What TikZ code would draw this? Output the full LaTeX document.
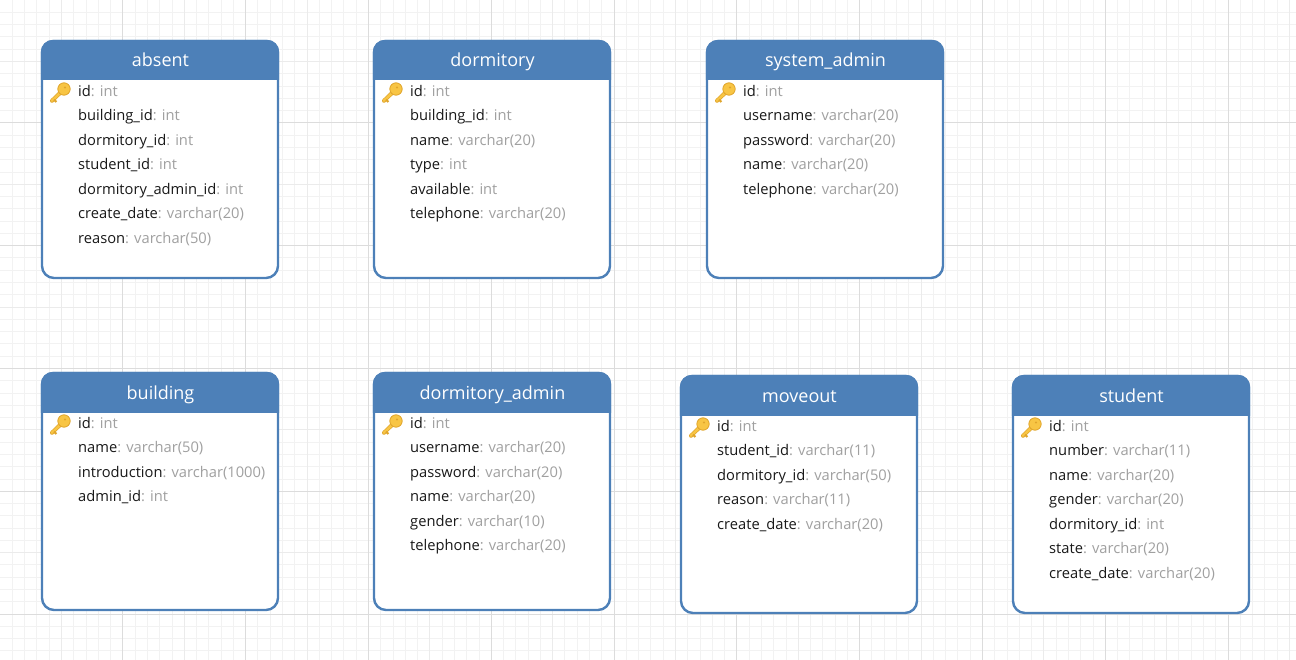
\documentclass[tikz,border=0pt]{standalone}
\usepackage{fontspec}
\setmainfont{Open Sans}
\definecolor{hdr}{HTML}{4D80B8}
\definecolor{minorg}{HTML}{F2F2F2}
\definecolor{midg}{HTML}{EBEBEB}
\definecolor{majorg}{HTML}{DCDCDC}
\definecolor{typeg}{HTML}{A0A0A0}
\definecolor{keyf}{HTML}{F8C544}
\definecolor{keyd}{HTML}{E0A52C}
\tikzset{
  x=1pt,y=-1pt,
  tablebody/.style={draw=hdr,line width=2.4pt,fill=white,rounded corners=12pt},
  tablehead/.style={fill=hdr,rounded corners=12pt},
  tabletitle/.style={text=white,font=\fontsize{18}{20}\selectfont,inner sep=0pt,anchor=base},
  rowtext/.style={text=black!90,font=\fontsize{14.7}{17}\selectfont,inner sep=0pt,anchor=base west},
}
\newcommand{\typed}[1]{\textcolor{typeg}{#1}}
% \dbtable{node name}{x}{y}{title}{rows}
\newcommand{\dbtable}[5]{%
  \begin{scope}[shift={(#2,#3)}]
    \draw[tablebody] (0,0) rectangle (236,237);
    \begin{scope}
      \clip (-2,-2) rectangle (238,39);
      \fill[tablehead] (-1.2,-1.2) rectangle (237.2,80);
    \end{scope}
    \node[tabletitle] (#1) at (118.5,26) {#4};
    % key icon
    \begin{scope}[shift={(19,51)}]
      \draw[keyd,line width=4pt,line cap=round] (-9,8.8) -- (1,-1);
      \draw[keyf,line width=2.6pt,line cap=round] (-9,8.8) -- (1,-1);
      \draw[keyd,line width=2pt] (-7,7.6) -- (-4.6,10);
      \fill[keyf,draw=keyd,line width=0.8pt] (3,-3) circle (6.2);
      \fill[keyd] (4,-4.5) circle (1.1);
    \end{scope}
    \foreach \fname/\ftype [count=\i from 0] in {#5} {
      \node[rowtext] (#1-\i) at (36,{55.3+24.5*\i}) {\fname\typed{: \ftype}};
    }
  \end{scope}}
\begin{document}
\begin{tikzpicture}
\useasboundingbox (0,0) rectangle (1296,660);
\fill[white] (0,0) rectangle (1296,660);
\foreach \k in {1,...,105} {
  \pgfmathsetmacro{\p}{12.28*\k}
  \draw[minorg,line width=0.8pt] (\p,0) -- (\p,660);
}
\foreach \k in {1,...,53} {
  \pgfmathsetmacro{\p}{12.28*\k}
  \draw[minorg,line width=0.8pt] (0,\p) -- (1296,\p);
}
\foreach \k in {1,3,...,21} {
  \pgfmathsetmacro{\p}{61.4*\k}
  \draw[midg,line width=0.9pt] (\p,0) -- (\p,660);
}
\foreach \k in {1,3,...,9} {
  \pgfmathsetmacro{\p}{61.4*\k}
  \draw[midg,line width=0.9pt] (0,\p) -- (1296,\p);
}
\foreach \k in {1,...,10} {
  \pgfmathsetmacro{\p}{122.8*\k}
  \draw[majorg,line width=0.9pt] (\p,0) -- (\p,660);
}
\foreach \k in {1,...,5} {
  \pgfmathsetmacro{\p}{122.8*\k}
  \draw[majorg,line width=0.9pt] (0,\p) -- (1296,\p);
}
\dbtable{absent}{42}{41}{absent}{id/int,building\_id/int,dormitory\_id/int,student\_id/int,dormitory\_admin\_id/int,create\_date/varchar(20),reason/varchar(50)}
\dbtable{dormitory}{374}{41}{dormitory}{id/int,building\_id/int,name/varchar(20),type/int,available/int,telephone/varchar(20)}
\dbtable{sysadmin}{707}{41}{system\_admin}{id/int,username/varchar(20),password/varchar(20),name/varchar(20),telephone/varchar(20)}
\dbtable{building}{42}{373}{building}{id/int,name/varchar(50),introduction/varchar(1000),admin\_id/int}
\dbtable{dormadmin}{374}{373}{dormitory\_admin}{id/int,username/varchar(20),password/varchar(20),name/varchar(20),gender/varchar(10),telephone/varchar(20)}
\dbtable{moveout}{681}{376}{moveout}{id/int,student\_id/varchar(11),dormitory\_id/varchar(50),reason/varchar(11),create\_date/varchar(20)}
\dbtable{student}{1013}{376}{student}{id/int,number/varchar(11),name/varchar(20),gender/varchar(20),dormitory\_id/int,state/varchar(20),create\_date/varchar(20)}
\end{tikzpicture}
\end{document}
